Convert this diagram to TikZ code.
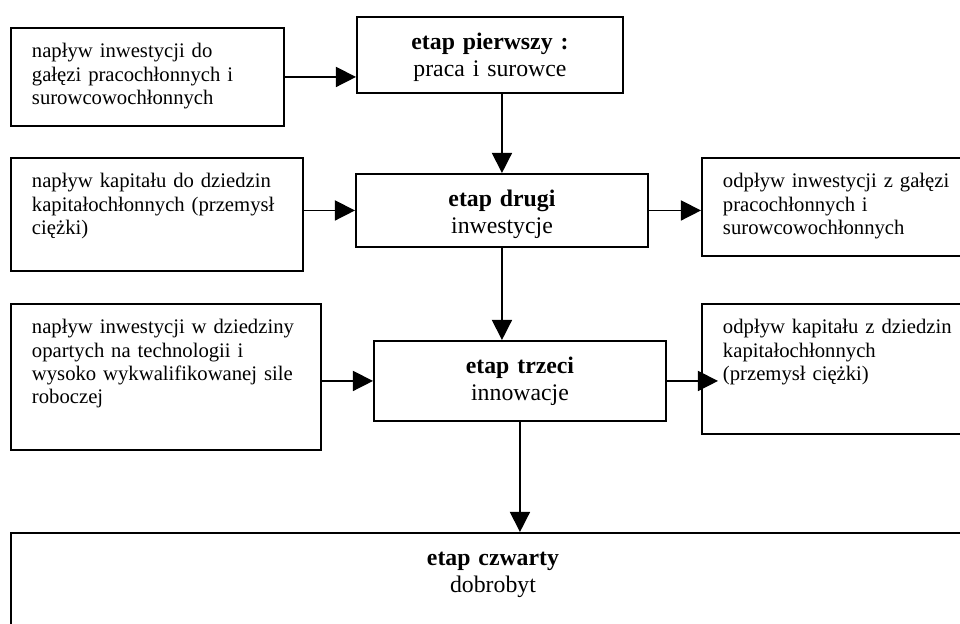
\documentclass[tikz,border=0pt]{standalone}
\usepackage{fontspec}
\setmainfont{Liberation Serif}
\usepackage{tikz}
\usetikzlibrary{arrows.meta, positioning, calc}
\newdimen\pxu
\pxu=0.568pt
\tikzset{font=\fontsize{11.75}{13.1}\selectfont}

\begin{document}
\begin{tikzpicture}[x=\pxu, y=-\pxu, >={Triangle[length=11.4pt,width=11.4pt]},
                    line width=0.85pt]
  \tikzstyle{stage}=[draw, line width=1.1pt, anchor=north west, inner sep=0pt,
                     align=center, text height=33\pxu,
                     font=\fontsize{13.5}{15.3}\selectfont]
  \tikzstyle{side}=[draw, line width=1.1pt, anchor=north west, inner xsep=21\pxu,
                    inner ysep=0pt, align=left, text height=30\pxu]

  \useasboundingbox (0,0) rectangle (960,624);
  \clip (0,0) rectangle (960,624);

  % stages
  \node[stage, text width=266\pxu, text depth=43\pxu] (stageA) at (356,16)
       {\textbf{etap pierwszy :}\\ praca i surowce};
  \node[stage, text width=292\pxu, text depth=40\pxu] (stageB) at (355,173)
       {\textbf{etap drugi}\\ inwestycje};
  \node[stage, text width=292\pxu, text depth=47\pxu] (stageC) at (373,340)
       {\textbf{etap trzeci}\\ innowacje};
  \node[stage, text width=964\pxu, text depth=97\pxu] (final) at (10,532)
       {\textbf{etap czwarty}\\ dobrobyt};

  % inflows and outflows
  \node[side, text width=231\pxu, text depth=68\pxu] (inflowA) at (10,27)
       {napływ inwestycji do\\ gałęzi pracochłonnych i\\ surowcowochłonnych};
  \node[side, text width=250\pxu, text depth=83\pxu] (inflowB) at (10,157)
       {napływ kapitału do dziedzin\\ kapitałochłonnych (przemysł\\ ciężki)};
  \node[side, text width=268\pxu, text depth=116\pxu] (inflowC) at (10,303)
       {napływ inwestycji w dziedziny\\ opartych na technologii i\\
        wysoko wykwalifikowanej sile\\ roboczej};
  \node[side, text width=238\pxu, text depth=68\pxu] (outflowA) at (701,157)
       {odpływ inwestycji z gałęzi\\ pracochłonnych i\\ surowcowochłonnych};
  \node[side, text width=238\pxu, text depth=100\pxu] (outflowB) at (701,303)
       {odpływ kapitału z dziedzin\\ kapitałochłonnych\\ (przemysł ciężki)};

  \draw[->] (inflowA.east) -- (inflowA.east -| stageA.west);
  \draw[->] (stageA.south -| stageB.north) -- (stageB.north);
  \draw[->] (inflowB.east |- stageB.west) -- (stageB.west);
  \draw[->] (stageB.east) -- (stageB.east -| outflowA.west);
  \draw[->] (stageB.south) -- (stageB.south |- stageC.north);
  \draw[->] (inflowC.east |- stageC.west) -- (stageC.west);
  \draw[->, shorten >=-17\pxu] (stageC.east) -- (stageC.east -| outflowB.west);
  \draw[->] (stageC.south) -- (stageC.south |- final.north);
\end{tikzpicture}
\end{document}
